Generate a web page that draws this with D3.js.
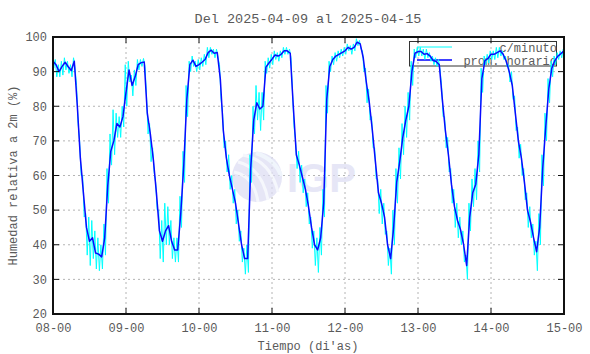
<!DOCTYPE html>
<html><head><meta charset="utf-8">
<script src="https://cdn.jsdelivr.net/npm/d3@7"></script>
<style>
html,body{margin:0;padding:0;background:#fff;}
svg{display:block;}
text{font-family:"Liberation Mono","DejaVu Sans Mono",monospace;fill:#5a5a5a;}
</style></head>
<body><svg id="c" width="590" height="354"></svg>
<script>
const dayLabels = ["08-00","09-00","10-00","11-00","12-00","13-00","14-00","15-00"];
const yTickValues = [20,30,40,50,60,70,80,90,100];
// hourly average (prom. horario), hour 0 = 2025-04-08 00:00
const humHourly = [
93,92,90,91.5,92.7,91.4,90.3,93,80,65,55,45,41,42,37.6,37.3,36.5,42,57,67,70,75,74,77,
84,90.5,86,88.5,92,92.6,92.8,78,72,64.5,55,44,41,44,45.5,41,38.5,38.5,49,63,82,92,93.3,91.5,
92,92.7,93.5,95.5,96.2,95.3,95.5,88,73,65,60,56,52,46,40,36,36,62,76,81,79.2,80,91.3,92.5,
93.6,94.8,94.5,95,96,96,95.3,80,66,63,59.5,56,51,45,40,38.5,42,52,82,91.5,93.5,94.5,95,95.5,
96,97,96.5,97,98.5,98,94,87,81,73,64,55,52,48,40,36,45,58,64,71,76,80,90,95.3,
95.8,95.8,95,95.2,94.5,93.2,92.9,92,82,73,66,57.5,51,47,44.3,40,34,48,55,57.5,66,88,93.2,93.8,
95,95,95.5,96,95,93,90,86,78,70,65,58,50,46.5,42,38,45,62,74,85,91,93.2,94.5,95.2,96
];
// per-minute series (c/minuto): highest and lowest reading in each hour
const humMinuteHigh = [
94,93.5,92,93,94,93,92,94,86,70,60,49,48,47,44,42,40,46,62,72,79,78,77,80,
92,93,89,90.5,93.5,93.5,93.8,83,75,68,58,50,47,52,51,47,42,42,54,67,86,93,94.5,93,
93.5,94,95,97,97,96.5,96.5,92,78,70,66,60,56,50,44,39,40,66,80,86,84,84,93,94,
95,96,95.5,96,97,97,96.5,84,70,67,63,59,55,48,44,42,45,56,86,93,94.5,95.5,96,96.5,
97,98,97.5,98,99.5,99,96,91,85,77,68,59,56,52,44,39,50,62,68,75,80,84,93,96.5,
97,97,96.5,96.5,95.5,94.5,94,93.5,86,77,71,62,56,52,48,44,37,52,59,62,70,91,94.5,95,
96,96,97,97,96,94.5,92,90,83,74,69,62,55,51,46,41,49,66,78,88,93,94.5,95.5,96,96.5
];
const humMinuteLow = [
91,88.5,88.5,89,90.5,89.5,88.5,91,75,60,48,37,34,36,33,32.5,33,37,52,63,66,71,71,74,
80,87,83,86,90.5,91.5,91.5,72,64,61,50,36,35,40,40,36,35,35,45,58,77,90,91.5,90,
90.5,91.5,92,94,95,94,94,82,68,61,56,52,46,41,35,31.5,32,58,72,76,73,76,89.5,91,
92,93.5,93,94,95,95,94,74,62,58,55,51,46,39,34,32,37,48,78,90,92,93,94,94.5,
95,96,95,96,97.5,96.5,90,81,76,68,59,49,46,43,34,31.5,40,52,59,66,71,76,86,94,
94.5,94.5,93.5,94,93,92,91.5,90.5,77,68,61,52,45,42,40,35,30,44,51,53,61,84,92,92.5,
93.5,93.5,94,94.5,93.5,91.5,87,82,73,65,60,53,45,42,37,32.5,40,57,70,81,88.5,92,93.5,94,95
];

const svg = d3.select("#c");
const L = 53, R = 564, T = 37, B = 314;
const x = d3.scaleLinear().domain([0, 168]).range([L, R]);
const y = d3.scaleLinear().domain([20, 100]).range([B, T]);
const dayTicks = dayLabels.map((d, i) => i * 24);

// grid
const g = svg.append("g");
g.selectAll(".gy").data(yTickValues.slice(1, -1)).join("line")
  .attr("x1", L).attr("x2", R).attr("y1", d => y(d)).attr("y2", d => y(d))
  .attr("stroke", "#b4b4b4").attr("stroke-width", 1).attr("stroke-dasharray", "2,3");
g.selectAll(".gx").data(dayTicks.slice(1, -1)).join("line")
  .attr("y1", T).attr("y2", B).attr("x1", d => x(d)).attr("x2", d => x(d))
  .attr("stroke", "#b4b4b4").attr("stroke-width", 1).attr("stroke-dasharray", "2,3");

// watermark
const wm = svg.append("g").attr("opacity", 0.7);
wm.append("circle").attr("cx", 257).attr("cy", 177).attr("r", 25).attr("fill", "#dcdcf3");
wm.append("path").attr("d", "M238,162 Q262,168 268,200").attr("fill", "none").attr("stroke", "#f2f4fc").attr("stroke-width", 3);
wm.append("path").attr("d", "M234,172 Q254,176 258,202").attr("fill", "none").attr("stroke", "#f2f4fc").attr("stroke-width", 3);
wm.append("path").attr("d", "M243,155 Q270,160 278,192").attr("fill", "none").attr("stroke", "#f2f4fc").attr("stroke-width", 3);
wm.append("path").attr("d", "M256,153 Q276,160 281,176").attr("fill", "none").attr("stroke", "#eaf2fb").attr("stroke-width", 4);
wm.append("text").attr("x", 287).attr("y", 192).text("IGP")
  .style("font-family", "'Liberation Sans',Arial,sans-serif").style("font-weight", "bold")
  .style("font-size", "40px").style("fill", "#dcdcf3");

// legend box (behind data)
const lg = svg.append("g");
lg.append("rect").attr("x", 409.5).attr("y", 41.5).attr("width", 147).attr("height", 24.5)
  .attr("fill", "none").attr("stroke", "#333").attr("stroke-width", 1);
lg.append("line").attr("x1", 417).attr("x2", 452).attr("y1", 47).attr("y2", 47).attr("stroke", "#00ffff").attr("stroke-width", 1);
lg.append("line").attr("x1", 417).attr("x2", 452).attr("y1", 60).attr("y2", 60).attr("stroke", "#0000ff").attr("stroke-width", 1.5);
lg.append("text").attr("x", 557).attr("y", 52).attr("text-anchor", "end").style("font-size", "12px").text("c/minuto");
lg.append("text").attr("x", 557).attr("y", 65).attr("text-anchor", "end").style("font-size", "12px").text("prom. horario");

// data
svg.append("clipPath").attr("id", "clip").append("rect")
  .attr("x", L).attr("y", T).attr("width", R - L).attr("height", B - T);
const dg = svg.append("g").attr("clip-path", "url(#clip)");
const cyanPts = [];
humMinuteHigh.forEach((v, i) => {
  cyanPts.push([i - 0.25, v]);
  cyanPts.push([i + 0.25, humMinuteLow[i]]);
});
const line = d3.line().x(d => x(d[0])).y(d => y(d[1]));
dg.append("path").datum(cyanPts).attr("d", line)
  .attr("fill", "none").attr("stroke", "#00ffff").attr("stroke-width", 1);
dg.append("path").datum(humHourly.map((v, i) => [i, v])).attr("d", line)
  .attr("fill", "none").attr("stroke", "#0a0aff").attr("stroke-width", 1.5).attr("stroke-linejoin", "round");

// ticks
const tk = svg.append("g").attr("stroke", "#111").attr("stroke-width", 1);
yTickValues.slice(1, -1).forEach(v => {
  tk.append("line").attr("x1", L).attr("x2", L + 6).attr("y1", y(v)).attr("y2", y(v));
  tk.append("line").attr("x1", R - 6).attr("x2", R).attr("y1", y(v)).attr("y2", y(v));
});
dayTicks.slice(1, -1).forEach(v => {
  tk.append("line").attr("y1", B).attr("y2", B - 6).attr("x1", x(v)).attr("x2", x(v));
  tk.append("line").attr("y1", T).attr("y2", T + 6).attr("x1", x(v)).attr("x2", x(v));
});

// frame
svg.append("rect").attr("x", L).attr("y", T).attr("width", R - L).attr("height", B - T)
  .attr("fill", "none").attr("stroke", "#111").attr("stroke-width", 2);

// axis labels via d3 axes
const ax = svg.append("g").attr("transform", `translate(0,${B})`)
  .call(d3.axisBottom(x).tickValues(dayTicks).tickFormat((d, i) => dayLabels[i]).tickSize(0).tickPadding(9));
ax.select(".domain").remove();
ax.selectAll("text").style("font-size", "12px").style("font-family", "'Liberation Mono',monospace").attr("fill", "#5a5a5a");
const ay = svg.append("g").attr("transform", `translate(${L},0)`)
  .call(d3.axisLeft(y).tickValues(yTickValues).tickFormat(d3.format("d")).tickSize(0).tickPadding(6));
ay.select(".domain").remove();
ay.selectAll("text").style("font-size", "12px").style("font-family", "'Liberation Mono',monospace").attr("fill", "#5a5a5a");

// titles
svg.append("text").attr("x", 308).attr("y", 23).attr("text-anchor", "middle").style("font-size", "13.5px")
  .text("Del 2025-04-09 al 2025-04-15");
svg.append("text").attr("x", 308).attr("y", 350).attr("text-anchor", "middle").style("font-size", "12px")
  .text("Tiempo (di'as)");
svg.append("text").attr("transform", "translate(17,175.5) rotate(-90)").attr("text-anchor", "middle").style("font-size", "12px")
  .text("Humedad relativa a 2m (%)");
</script></body></html>
